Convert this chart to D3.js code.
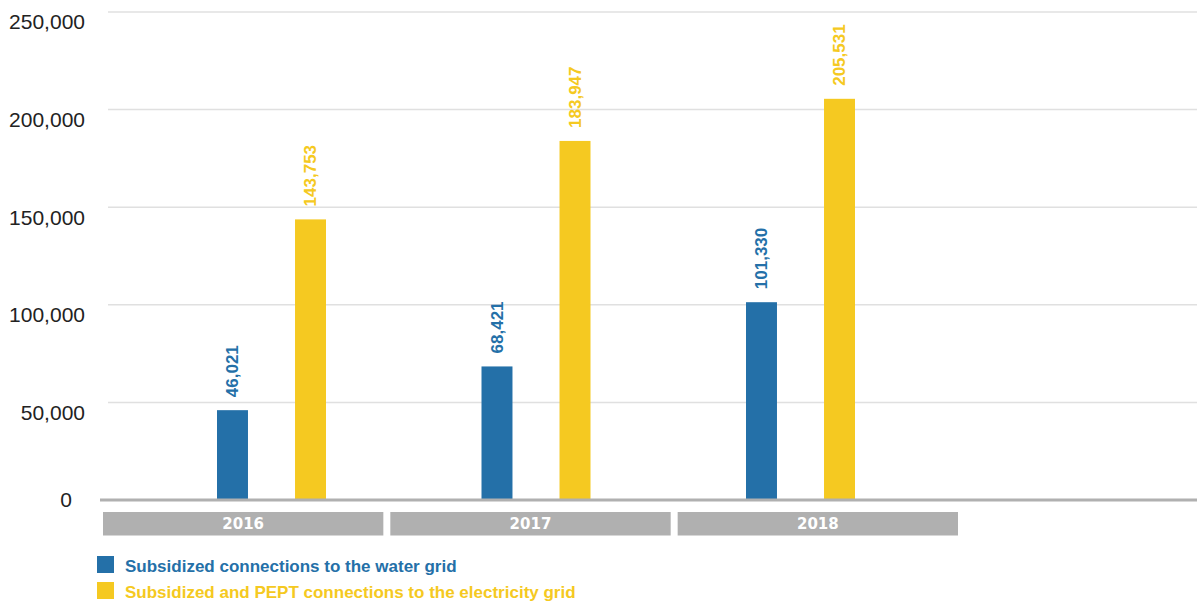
<!DOCTYPE html>
<html>
<head>
<meta charset="utf-8">
<script src="https://cdn.jsdelivr.net/npm/d3@7"></script>
<style>
  html, body { margin: 0; padding: 0; background: #fff; }
  svg { display: block; }
</style>
</head>
<body>
<svg id="chart" width="1197" height="602"></svg>
<script>
// Connections per year
const years = ["2016", "2017", "2018"];
const waterConnections = [46021, 68421, 101330];
const electricityConnections = [143753, 183947, 205531];
const seriesNames = [
  "Subsidized connections to the water grid",
  "Subsidized and PEPT connections to the electricity grid"
];
const seriesColors = ["#2470a8", "#f5c921"];
const yTicks = [0, 50000, 100000, 150000, 200000, 250000];

const svg = d3.select("#chart");
const font = "'Liberation Sans', Arial, sans-serif";

const y = d3.scaleLinear().domain([0, 250000]).range([500, 12]);

// Group positions for the bars
const x0 = d3.scaleBand().domain(years).range([139.25, 932.75]).padding(0);
const x1 = d3.scaleBand().domain([0, 1])
  .range([x0.bandwidth() / 2 - 54.5, x0.bandwidth() / 2 + 54.5])
  .paddingInner(0.603).paddingOuter(0);

// Category boxes below the axis
const xBox = d3.scaleBand().domain(years).range([103, 958]).paddingInner(0.0243).paddingOuter(0);

// Gridlines
svg.append("g").selectAll("line")
  .data(yTicks.filter(d => d > 0))
  .join("line")
  .attr("x1", 108).attr("x2", 1197)
  .attr("y1", d => y(d)).attr("y2", d => y(d))
  .attr("stroke", "#e0e0e0").attr("stroke-width", 1.5);

// Y tick labels (the zero label sits on the baseline, slightly further left)
const fmt = d3.format(",");
svg.append("g").selectAll("text")
  .data(yTicks)
  .join("text")
  .attr("x", d => d === 0 ? 72 : 85)
  .attr("y", d => y(d) + (d === 0 ? 0 : 10))
  .attr("dy", "0.35em")
  .attr("text-anchor", "end")
  .attr("font-family", font)
  .attr("font-size", 21)
  .attr("fill", "#222")
  .text(d => fmt(d));

// Bars
const rows = years.map((yr, i) => ({ year: yr, values: [waterConnections[i], electricityConnections[i]] }));
const groups = svg.append("g").selectAll("g")
  .data(rows)
  .join("g")
  .attr("transform", d => `translate(${x0(d.year)},0)`);

groups.selectAll("rect")
  .data(d => d.values.map((v, k) => ({ k, v })))
  .join("rect")
  .attr("x", d => x1(d.k))
  .attr("width", x1.bandwidth())
  .attr("y", d => y(d.v))
  .attr("height", d => y(0) - y(d.v))
  .attr("fill", d => seriesColors[d.k]);

// Value labels, rotated above each bar
groups.selectAll("text")
  .data(d => d.values.map((v, k) => ({ k, v })))
  .join("text")
  .attr("transform", d => `translate(${x1(d.k) + x1.bandwidth() / 2},${y(d.v) - 13}) rotate(-90)`)
  .attr("dy", "0.35em")
  .attr("text-anchor", "start")
  .attr("font-family", font)
  .attr("font-weight", "bold")
  .attr("font-size", 17)
  .attr("fill", d => seriesColors[d.k])
  .text(d => fmt(d.v));

// Baseline
svg.append("line")
  .attr("x1", 100).attr("x2", 1197)
  .attr("y1", y(0)).attr("y2", y(0))
  .attr("stroke", "#b0b0b0").attr("stroke-width", 3);

// Category boxes
const boxes = svg.append("g").selectAll("g")
  .data(years)
  .join("g")
  .attr("transform", d => `translate(${xBox(d)},512)`);
boxes.append("rect")
  .attr("width", xBox.bandwidth())
  .attr("height", 23.5)
  .attr("fill", "#b0b0b0");
boxes.append("text")
  .attr("x", xBox.bandwidth() / 2)
  .attr("y", 12)
  .attr("dy", "0.35em")
  .attr("text-anchor", "middle")
  .attr("font-family", "'DejaVu Sans', sans-serif")
  .attr("font-weight", "bold")
  .attr("font-size", 15)
  .attr("fill", "#fff")
  .text(d => d);

// Legend
const legend = svg.append("g").selectAll("g")
  .data(seriesNames)
  .join("g")
  .attr("transform", (d, i) => `translate(97,${556 + i * 26})`);
legend.append("rect")
  .attr("width", 17).attr("height", 17)
  .attr("fill", (d, i) => seriesColors[i]);
legend.append("text")
  .attr("x", 28).attr("y", 10)
  .attr("dy", "0.35em")
  .attr("font-family", font)
  .attr("font-weight", "bold")
  .attr("font-size", 17)
  .attr("fill", (d, i) => seriesColors[i])
  .text(d => d);
</script>
</body>
</html>
